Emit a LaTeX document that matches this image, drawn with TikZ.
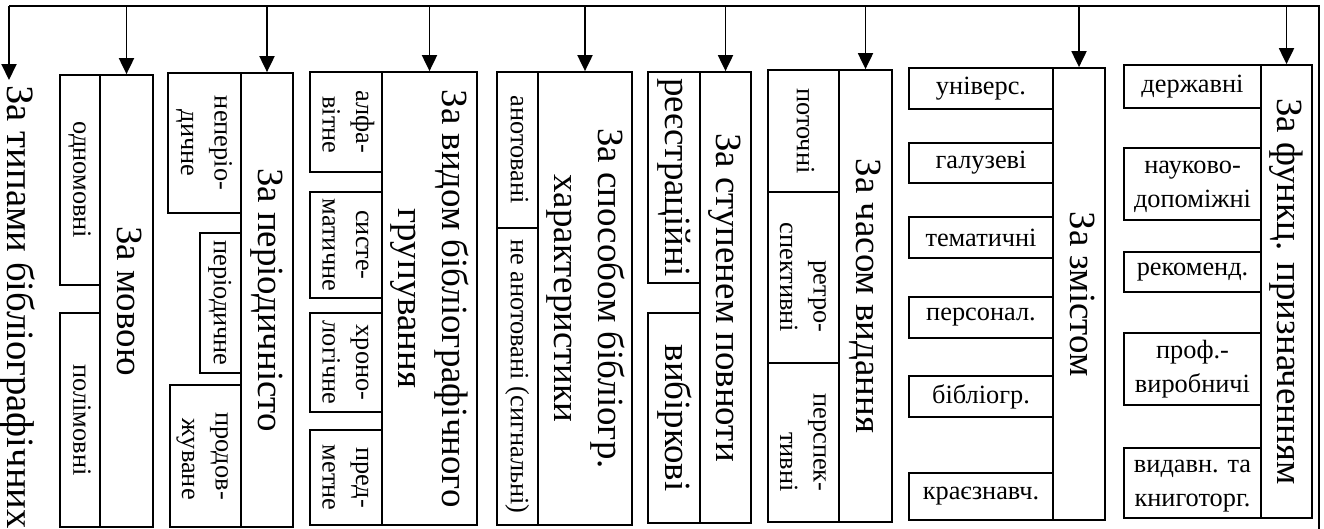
\documentclass[tikz,border=0pt]{standalone}
\usepackage{fontspec}
\setmainfont{Liberation Serif}
\usetikzlibrary{arrows.meta,fit}

\newcommand{\vlab}[2][c]{\rotatebox{-90}{\begin{tabular}{@{}#1@{}}#2\end{tabular}}}
\newcommand{\hlab}[1]{\begin{tabular}{@{}c@{}}#1\end{tabular}}
% box from corner to corner, text in its middle
\newcommand{\cell}[5]{%
  \node[box, fit={(#3) (#4)}] (#1) {};
  \node[#2] (#1-t) at (#1.center) {#5};}

\tikzset{
  box/.style={draw, line width=1pt, inner sep=0pt},
  head/.style={font=\fontsize{21}{25}\selectfont, inner sep=0pt},
  lab/.style={font=\fontsize{15}{19}\selectfont, inner sep=0pt},
  arr/.style={line width=1.1pt, -{Triangle[length=3.2mm,width=3mm]}}
}

\begin{document}
\begin{tikzpicture}[x=0.02cm, y=-0.02cm]
        \useasboundingbox (0,0) rectangle (1324,528);

        % за типами
        \node[head, font=\fontsize{22}{26}\selectfont, anchor=north, inner sep=3pt] (typy) at (17,80) {\vlab{За типами бібліографічних}};

        % за мовою
        \cell{mova}{head}{100,75}{153,527}{\vlab{За мовою}}
        \cell{odno}{lab}{60,75}{100,285}{\vlab{одномовні}}
        \cell{poli}{lab}{60,313}{100,527}{\vlab{полімовні}}

        % за періодичністо
        \cell{period}{head}{241,73}{293,527}{\vlab{За періодичністо}}
        \cell{neper}{lab}{168,73}{241,213}{\vlab{неперіо-\\дичне}}
        \cell{perd}{lab}{200,233}{241,373}{\vlab{періодичне}}
        \cell{prodov}{lab}{170,385}{241,527}{\vlab[r]{продов-\\жуване}}

        % за видом
        \cell{vyd}{head}{382,72}{477,525}{\vlab{За видом бібліографічного\\групування}}
        \cell{alfa}{lab}{310,72}{382,172}{\vlab[r]{алфа-\\вітне}}
        \cell{syst}{lab}{310,192}{382,298}{\vlab{систе-\\матичне}}
        \cell{hrono}{lab}{310,313}{382,412}{\vlab{хроно-\\логічне}}
        \cell{predm}{lab}{310,430}{382,525}{\vlab{пред-\\метне}}

        % за способом
        \cell{sposib}{head}{538,72}{632,525}{\vlab{За способом бібліогр.\\характеристики}}
        \cell{anot}{lab}{497,72}{538,228}{\vlab{анотовані}}
        \cell{neanot}{lab}{497,228}{538,525}{\vlab{не анотовані (сигнальні)}}

        % за ступенем
        \cell{stup}{head}{700,72}{751,523}{\vlab{За ступенем повноти}}
        \cell{reestr}{head}{648,72}{700,283}{\vlab{реєстраційні}}
        \cell{vybir}{head}{648,313}{700,523}{\vlab{вибіркові}}

        % за часом
        \cell{chas}{head}{839,70}{892,522}{\vlab{За часом видання}}
        \cell{potoch}{lab}{768,70}{839,192}{\vlab{поточні}}
        \cell{retro}{lab}{768,192}{839,363}{\vlab[r]{ретро-\\спективні}}
        \cell{persp}{lab}{768,363}{839,522}{\vlab[r]{перспек-\\тивні}}

        % за змістом
        \cell{zmist}{head}{1053,68}{1105,520}{\vlab{За змістом}}
        \cell{univ}{lab}{909,68}{1053,109}{універс.}
        \cell{haluz}{lab}{909,143}{1053,183}{галузеві}
        \cell{temat}{lab}{909,217}{1053,258}{тематичні}
        \cell{person}{lab}{909,297}{1053,338}{персонал.}
        \cell{bibl}{lab}{909,376}{1053,417}{бібліогр.}
        \cell{kraez}{lab}{909,473}{1053,520}{краєзнавч.}

        % за функц.
        \cell{funk}{head}{1261,65}{1312,518}{\vlab{За функц. призначенням}}
        \cell{derzh}{lab}{1124,65}{1261,108}{державні}
        \cell{nauk}{lab}{1124,148}{1261,220}{\hlab{науково-\\допоміжні}}
        \cell{rekom}{lab}{1124,252}{1261,292}{рекоменд.}
        \cell{prof}{lab}{1124,333}{1261,405}{\hlab{проф.-\\виробничі}}
        \cell{vydavn}{lab}{1124,448}{1261,518}{\hlab{видавн. та\\книготорг.}}

        % лінії
        \coordinate (root) at (1319,540);
        \coordinate (tr) at (1319,6);
        \coordinate (tl) at (9,6);
        \draw[line width=1.1pt] (root) -- (tr) -- (tl);

        \draw[arr] (tl) -- (tl |- typy.north);
        \foreach \n in {mova, period, vyd, sposib, stup, chas, zmist, funk}
            \draw[arr] (\n.north |- tl) -- (\n.north);
\end{tikzpicture}
\end{document}
